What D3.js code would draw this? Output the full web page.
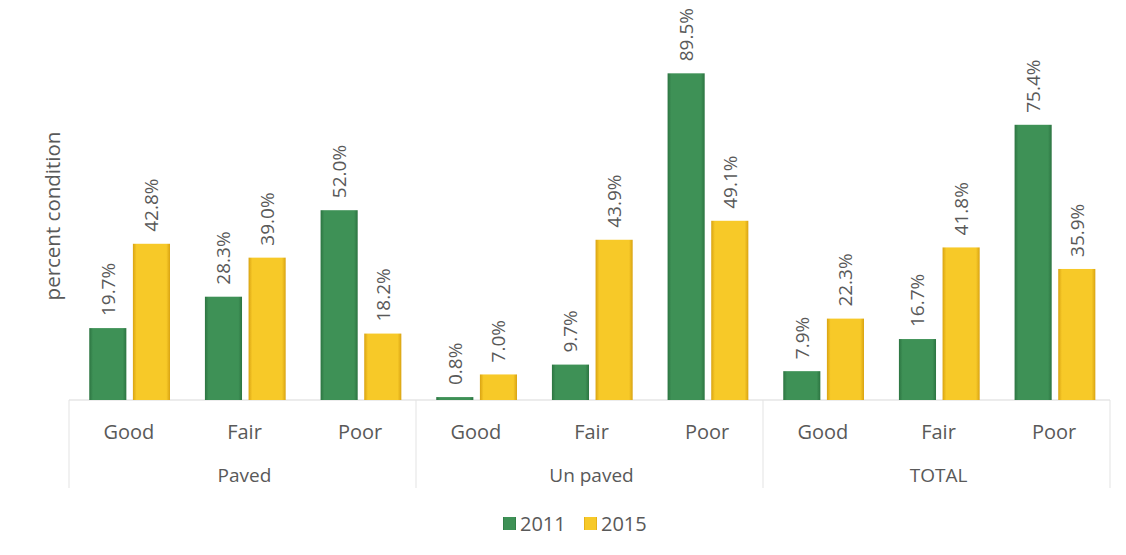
<!DOCTYPE html>
<html><head><meta charset="utf-8">
<script src="https://cdn.jsdelivr.net/npm/d3@7"></script>
<style>body{margin:0;background:#fff;} text{font-family:"Open Sans","Noto Sans",sans-serif;}</style>
</head><body><svg id="c" width="1126" height="555"></svg>
<script>
const groups = ["Paved","Un paved","TOTAL"];
const conditions = ["Good","Fair","Poor"];
const series = ["2011","2015"];
const values2011 = [19.7,28.3,52.0, 0.8,9.7,89.5, 7.9,16.7,75.4];
const values2015 = [42.8,39.0,18.2, 7.0,43.9,49.1, 22.3,41.8,35.9];

const svg = d3.select("#c");
const defs = svg.append("defs");
[["g0","#2c7441","#3e9156"],["g1","#d9a312","#f7c928"]].forEach(([id,dark,light])=>{
  const lg = defs.append("linearGradient").attr("id",id).attr("x1",0).attr("x2",1).attr("y1",0).attr("y2",0);
  lg.append("stop").attr("offset","0%").attr("stop-color",dark);
  lg.append("stop").attr("offset","10%").attr("stop-color",light);
  lg.append("stop").attr("offset","90%").attr("stop-color",light);
  lg.append("stop").attr("offset","100%").attr("stop-color",dark);
});

const x0 = 69, x1 = 1110, base = 400;
const cats = [];
groups.forEach(g=>conditions.forEach(c=>cats.push(g+"|"+c)));
const x = d3.scaleBand().domain(cats).range([x0,x1]);
const xs = d3.scaleBand().domain(series).range([0,x.bandwidth()]).paddingInner(0.15).paddingOuter(0.4).align(0.58);
const y = d3.scaleLinear().domain([0,100]).range([base, base-365]);

svg.append("line").attr("x1",x0).attr("x2",x1).attr("y1",base).attr("y2",base).attr("stroke","#d9d9d9");
const gx = d3.scaleBand().domain(groups).range([x0,x1]);
[x0, ...groups.map(g=>gx(g)+gx.bandwidth())].forEach(px=>{
  svg.append("line").attr("x1",px).attr("x2",px).attr("y1",base).attr("y2",488).attr("stroke","#e3e3e3");
});

const data = [];
cats.forEach((c,i)=>{
  data.push({cat:c, s:"2011", v:values2011[i], k:0});
  data.push({cat:c, s:"2015", v:values2015[i], k:1});
});

svg.selectAll("rect.bar").data(data).join("rect")
  .attr("x",d=>x(d.cat)+xs(d.s)).attr("width",xs.bandwidth())
  .attr("y",d=>y(d.v)).attr("height",d=>base-y(d.v))
  .attr("fill",d=>`url(#g${d.k})`);

svg.selectAll("text.val").data(data).join("text")
  .attr("transform",d=>`translate(${x(d.cat)+xs(d.s)+xs.bandwidth()/2+7},${y(d.v)-12}) rotate(-90)`)
  .attr("font-size",19).attr("fill","#595959").attr("text-anchor","start")
  .text(d=>d.v.toFixed(1)+"%");

svg.selectAll("text.cond").data(cats).join("text")
  .attr("x",d=>x(d)+x.bandwidth()/2+2).attr("y",439)
  .attr("text-anchor","middle").attr("font-size",20).attr("fill","#595959")
  .text(d=>d.split("|")[1]);
svg.selectAll("text.grp").data(groups).join("text")
  .attr("x",d=>gx(d)+gx.bandwidth()/2+2).attr("y",482)
  .attr("text-anchor","middle").attr("font-size",19).attr("fill","#595959")
  .text(d=>d);

svg.append("text").attr("transform","translate(60,216) rotate(-90)")
  .attr("text-anchor","middle").attr("font-size",20.5).attr("fill","#595959").text("percent condition");

const lg = svg.append("g");
const legX = [503, 584];
series.forEach((s,i)=>{
  lg.append("rect").attr("x",legX[i]).attr("y",517).attr("width",13).attr("height",13).attr("fill",`url(#g${i})`);
  lg.append("text").attr("x",legX[i]+17).attr("y",531).attr("font-size",20).attr("fill","#595959").text(s);
});
</script></body></html>
